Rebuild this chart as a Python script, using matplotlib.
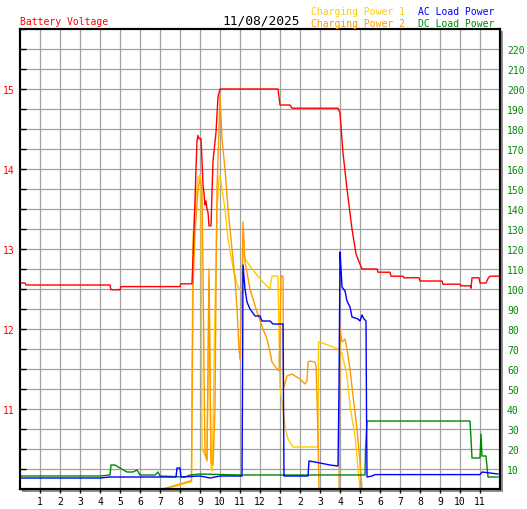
import matplotlib
matplotlib.use("Agg")
import matplotlib.pyplot as plt
from matplotlib.patches import Rectangle
from matplotlib.ticker import MultipleLocator

# hours of the day, labels at the grid lines
hour_ticks = list(range(1, 24))
hour_labels = [str(h) for h in range(1, 12)] + ["12"] + [str(h) for h in range(1, 12)]

# Battery voltage (left axis), (hour, volts)
battery = [
    (0.0, 12.575), (0.25, 12.575), (0.3, 12.55), (4.5, 12.55), (4.55, 12.49),
    (5.0, 12.49), (5.05, 12.53), (8.0, 12.53), (8.05, 12.565), (8.6, 12.565),
    (8.65, 12.9), (8.75, 13.6), (8.8, 14.0), (8.85, 14.35), (8.9, 14.42),
    (8.95, 14.38), (9.05, 14.38), (9.1, 14.1), (9.15, 13.8), (9.2, 13.7),
    (9.25, 13.55), (9.3, 13.6), (9.35, 13.5), (9.4, 13.46), (9.45, 13.29),
    (9.55, 13.29), (9.6, 13.7), (9.65, 14.1), (9.8, 14.46), (9.9, 14.9),
    (10.0, 15.0), (12.9, 15.0), (13.0, 14.8), (13.5, 14.8), (13.6, 14.76),
    (15.9, 14.76), (16.0, 14.7), (16.15, 14.2), (16.35, 13.75), (16.6, 13.25),
    (16.8, 12.94), (17.0, 12.81), (17.1, 12.75), (17.85, 12.75), (17.9, 12.71),
    (18.5, 12.71), (18.55, 12.66), (19.15, 12.66), (19.2, 12.64), (19.95, 12.64),
    (20.0, 12.6), (21.1, 12.6), (21.15, 12.56), (22.0, 12.56), (22.05, 12.54),
    (22.5, 12.54), (22.55, 12.51), (22.6, 12.64), (22.95, 12.64), (23.0, 12.575),
    (23.3, 12.575), (23.4, 12.63), (23.5, 12.66), (24.0, 12.66),
]

# Charging Power 1 (right axis), (hour, watts)
charging_1 = [
    (0.0, 0), (7.25, 0), (7.6, 1), (8.0, 2), (8.5, 3.5), (8.575, 3.5), (8.6, 60),
    (8.65, 126), (8.75, 141), (8.9, 156), (9.0, 157), (9.05, 150), (9.075, 74),
    (9.1, 20), (9.25, 17), (9.35, 15), (9.4, 60), (9.45, 105), (9.5, 60),
    (9.55, 12), (9.6, 9), (9.65, 30), (9.75, 90), (9.85, 140), (9.95, 155),
    (10.0, 157), (10.1, 150), (10.25, 140), (10.4, 125), (10.5, 119), (10.7, 108),
    (10.9, 101), (11.0, 100), (11.1, 98), (11.15, 119), (11.25, 115), (11.5, 111.5),
    (12.0, 105), (12.35, 101.5), (12.5, 100), (12.6, 106.5), (12.85, 106.5),
    (12.9, 106), (12.95, 78), (13.0, 50), (13.15, 40), (13.25, 31.5), (13.4, 25),
    (13.65, 21), (14.9, 21), (14.925, 73.5), (15.0, 73.5), (15.9, 70), (16.1, 68),
    (16.35, 56.5), (16.5, 41.5), (16.75, 26.5), (16.9, 10), (17.0, 0), (24.0, 0),
]

# Charging Power 2 (right axis)
charging_2 = [
    (0.0, 0), (7.1, 0), (7.5, 1), (8.0, 2.5), (8.5, 4), (8.575, 4), (8.6, 35),
    (8.65, 100), (8.75, 128), (8.9, 150), (9.0, 155), (9.1, 150), (9.15, 110),
    (9.2, 60), (9.25, 18), (9.35, 14), (9.4, 60), (9.45, 110), (9.5, 60),
    (9.55, 14), (9.65, 12), (9.75, 40), (9.8, 100), (9.85, 150), (9.95, 180),
    (10.0, 197), (10.1, 175), (10.25, 160), (10.4, 140), (10.55, 125), (10.75, 105),
    (10.85, 90), (10.95, 70), (11.0, 65), (11.1, 100), (11.15, 133.5), (11.25, 113.5),
    (11.5, 100), (11.85, 88.5), (12.15, 80), (12.35, 75), (12.5, 68.5), (12.6, 63.5),
    (12.85, 60), (12.95, 59), (13.0, 75), (13.05, 106.5), (13.15, 106.5),
    (13.175, 55), (13.2, 51), (13.35, 56.5), (13.6, 57.5), (13.75, 56.5),
    (14.0, 55), (14.25, 52.5), (14.35, 54), (14.4, 63.5), (14.5, 64), (14.75, 63.5),
    (14.8, 61.5), (14.85, 45), (14.9, 26.5), (14.95, 0), (15.95, 0), (16.0, 80),
    (16.1, 73.5), (16.25, 75), (16.35, 70), (16.5, 60), (16.65, 46.5), (16.85, 30),
    (17.0, 13.5), (17.1, 0), (24.0, 0),
]

# AC Load Power (right axis)
ac_load = [
    (0.0, 5.5), (4.0, 5.5), (4.5, 6), (7.8, 6), (7.85, 10.5), (8.0, 10.5),
    (8.05, 6), (9.0, 6.5), (9.5, 5.5), (10.0, 6.5), (11.1, 6.5), (11.125, 50),
    (11.15, 112), (11.25, 100), (11.35, 93.5), (11.5, 90), (11.75, 86.5),
    (12.0, 86.5), (12.1, 84), (12.5, 84), (12.65, 82.5), (13.15, 82.5),
    (13.2, 6.5), (14.4, 6.5), (14.45, 14), (14.75, 13.5), (15.25, 12.5),
    (15.5, 12), (15.9, 11.5), (15.95, 50), (16.0, 118.5), (16.05, 110),
    (16.1, 101), (16.25, 99), (16.35, 94), (16.5, 91), (16.6, 86), (16.9, 85),
    (17.0, 84), (17.1, 87), (17.2, 85), (17.3, 84), (17.325, 40), (17.35, 6),
    (17.6, 6.5), (17.75, 7.2), (23.0, 7.2), (23.1, 8.5), (23.5, 8), (23.9, 7.5),
]

# DC Load Power (right axis)
dc_load = [
    (0.0, 6.5), (4.0, 6.5), (4.5, 7), (4.55, 12), (4.75, 12), (5.0, 10.5),
    (5.35, 8.5), (5.65, 8.5), (5.85, 9.5), (6.0, 7), (6.75, 7), (6.9, 8.5),
    (7.0, 6.5), (8.25, 6), (8.5, 7), (9.0, 7.5), (11.0, 7), (17.25, 7),
    (17.275, 20), (17.35, 34), (22.5, 34), (22.55, 25), (22.6, 15.5), (23.0, 15.5),
    (23.05, 27.5), (23.1, 16.5), (23.3, 16.5), (23.4, 6), (23.9, 6),
]

W, H = 527, 510
fig = plt.figure(figsize=(W / 100, H / 100), dpi=100)
font = "DejaVu Sans Mono"

# gray drop shadow behind the frame
fig.patches.append(Rectangle((22 / W, 17 / H), 481 / W, 461 / H,
                             transform=fig.transFigure, facecolor="#909090",
                             edgecolor="none", zorder=-5))

ax2 = fig.add_axes([20 / W, 20 / H, 480 / W, 460 / H])  # power axis (bottom layer)
ax = ax2.twinx()  # voltage axis on top
ax2.yaxis.tick_right()
ax.yaxis.tick_left()
ax.set_zorder(ax2.get_zorder() + 1)
ax.patch.set_visible(False)
ax2.set_facecolor("white")

# power lines
for pts, col in [(charging_1, "#FFCC00"), (charging_2, "#FF9900"),
                 (dc_load, "#008800"), (ac_load, "#0000FF")]:
    t, v = zip(*pts)
    ax2.plot(t, v, color=col, lw=1.0)

t, v = zip(*battery)
ax.plot(t, v, color="#FF0000", lw=1.0)

ax2.set_xlim(0, 24)
ax2.set_ylim(0, 230)
ax.set_ylim(10, 15.75)

ax2.set_xticks(hour_ticks)
ax2.set_xticklabels(hour_labels, fontfamily=font, fontsize=7)
ax2.tick_params(axis="x", direction="out", length=3, width=1, pad=2)

ax2.set_yticks(range(10, 230, 10))
ax2.set_yticklabels([str(p) for p in range(10, 230, 10)],
                    fontfamily=font, fontsize=7, color="#008800")
ax2.tick_params(axis="y", length=0, pad=5)
ax2.grid(True, color="#A0A0A0", lw=0.9)
ax2.set_axisbelow(True)

ax.set_yticks([11, 12, 13, 14, 15])
ax.set_yticklabels(["11", "12", "13", "14", "15"], fontfamily=font,
                   fontsize=7, color="#FF0000")
ax.yaxis.set_minor_locator(MultipleLocator(0.25))
ax.tick_params(axis="y", which="both", direction="in", length=4, width=1,
               color="black", pad=4)

for a in (ax, ax2):
    for s in a.spines.values():
        s.set_linewidth(1.5)
        s.set_color("black")

def ftext(x, y, s, **kw):
    fig.text(x / W, 1 - y / H, s, fontfamily=font, va="baseline", **kw)

ftext(20, 25, "Battery Voltage", fontsize=7, color="#FF0000")
ftext(261, 25, "11/08/2025", fontsize=9.3, color="black", ha="center")
ftext(311, 15, "Charging Power 1", fontsize=7, color="#FFCC00")
ftext(311, 27, "Charging Power 2", fontsize=7, color="#FF9900")
ftext(418, 15, "AC Load Power", fontsize=7, color="#0000FF")
ftext(418, 27, "DC Load Power", fontsize=7, color="#008800")

fig.savefig("out.png", dpi=100)
